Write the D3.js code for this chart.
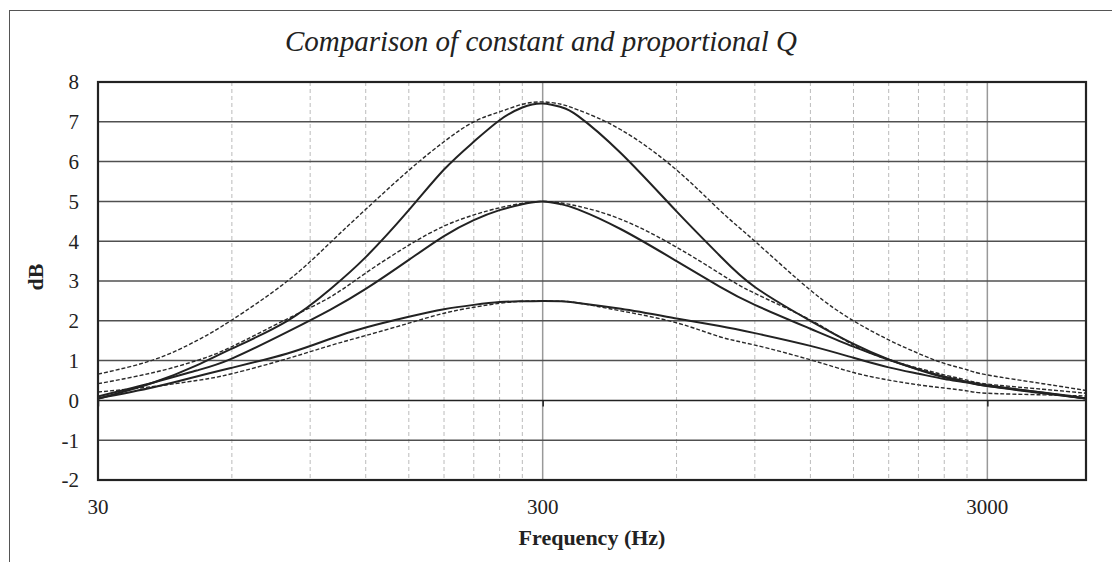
<!DOCTYPE html>
<html>
<head>
<meta charset="utf-8">
<script src="https://cdn.jsdelivr.net/npm/d3@7"></script>
<style>
  body { margin: 0; background: #fff; }
  text { font-family: "Liberation Serif", "Times New Roman", serif; fill: #222; }
</style>
</head>
<body>
<script>
//Width and height
var width = 1112;
var height = 562;

//Frequencies (Hz) the curves were read at
var freq = [30, 40, 50, 60, 80, 100, 120, 150, 180, 210, 240, 270, 300, 330, 360, 450, 600, 750, 900, 1200, 1500, 1800, 2100, 2400, 2700, 3000, 4000, 5000];

//Constant Q (dashed)
var constQ75 = [0.66, 1.02, 1.5, 2.02, 3.0, 3.97, 4.8, 5.78, 6.5, 7.0, 7.25, 7.44, 7.5, 7.44, 7.3, 6.8, 5.79, 4.78, 4.0, 2.77, 2.0, 1.52, 1.18, 0.93, 0.77, 0.64, 0.42, 0.25];
var constQ5  = [0.42, 0.7, 1.0, 1.35, 2.05, 2.6, 3.2, 3.9, 4.38, 4.66, 4.84, 4.95, 5.0, 4.96, 4.88, 4.55, 3.85, 3.19, 2.69, 2.02, 1.39, 1.02, 0.81, 0.64, 0.51, 0.41, 0.28, 0.18];
var constQ25 = [0.21, 0.35, 0.5, 0.67, 1.05, 1.38, 1.63, 1.94, 2.19, 2.34, 2.44, 2.49, 2.5, 2.49, 2.45, 2.25, 1.95, 1.6, 1.39, 1.02, 0.7, 0.51, 0.39, 0.31, 0.24, 0.18, 0.14, 0.11];

//Proportional Q (solid)
var propQ75 = [0.04, 0.45, 0.88, 1.3, 2.0, 2.8, 3.6, 4.78, 5.8, 6.5, 7.04, 7.36, 7.46, 7.37, 7.15, 6.21, 4.75, 3.64, 2.85, 2.0, 1.42, 1.03, 0.77, 0.58, 0.46, 0.36, 0.18, 0.05];
var propQ5  = [0.1, 0.45, 0.75, 1.05, 1.72, 2.28, 2.8, 3.53, 4.13, 4.53, 4.78, 4.93, 5.0, 4.93, 4.8, 4.3, 3.5, 2.86, 2.4, 1.8, 1.35, 1.02, 0.78, 0.6, 0.47, 0.38, 0.19, 0.05];
var propQ25 = [0.05, 0.33, 0.6, 0.82, 1.18, 1.55, 1.83, 2.1, 2.29, 2.4, 2.47, 2.49, 2.5, 2.49, 2.45, 2.3, 2.06, 1.87, 1.69, 1.37, 1.07, 0.83, 0.67, 0.54, 0.45, 0.36, 0.2, 0.05];

//Axis ticks
var xMajor = [30, 300, 3000];
var xMinor = [60, 90, 120, 150, 180, 210, 240, 270, 600, 900, 1200, 1500, 1800, 2100, 2400, 2700];
var yTicks = [-2, -1, 0, 1, 2, 3, 4, 5, 6, 7, 8];

var titleText = "Comparison of constant and proportional Q";
var xTitle = "Frequency (Hz)";
var yTitle = "dB";

var svg = d3.select("body")
			.append("svg")
			.attr("width", width)
			.attr("height", height);

//outer chart frame
svg.append("rect")
	.attr("x", 9.5).attr("y", 10.5)
	.attr("width", 1130).attr("height", 600)
	.attr("fill", "none")
	.attr("stroke", "#555")
	.attr("stroke-width", 1);

//plot area edges
var pLeft = 98, pRight = 1086, pTop = 82, pBottom = 480;

var x = d3.scaleLog()
	.domain([30, 5000])
	.range([pLeft, pRight]);

var y = d3.scaleLinear()
	.domain([-2, 8])
	.range([pBottom, pTop]);

//minor vertical grid
svg.selectAll("line.minor")
	.data(xMinor)
	.enter()
	.append("line")
	.attr("class", "minor")
	.attr("x1", function(d) { return x(d); })
	.attr("x2", function(d) { return x(d); })
	.attr("y1", pTop).attr("y2", pBottom)
	.attr("stroke", "#bbb")
	.attr("stroke-width", 1)
	.attr("stroke-dasharray", "4,3");

//major vertical grid
svg.selectAll("line.major")
	.data(xMajor.slice(1))
	.enter()
	.append("line")
	.attr("class", "major")
	.attr("x1", function(d) { return x(d); })
	.attr("x2", function(d) { return x(d); })
	.attr("y1", pTop).attr("y2", pBottom)
	.attr("stroke", "#999")
	.attr("stroke-width", 1.5);

//horizontal grid
svg.selectAll("line.hgrid")
	.data(yTicks)
	.enter()
	.append("line")
	.attr("class", "hgrid")
	.attr("x1", pLeft).attr("x2", pRight)
	.attr("y1", function(d) { return y(d); })
	.attr("y2", function(d) { return y(d); })
	.attr("stroke", function(d) { return d == 0 ? "#222" : "#505050"; })
	.attr("stroke-width", 1.5);

//x axis on the zero line
var xAxis = d3.axisBottom(x)
	.tickValues(xMajor)
	.tickSize(6)
	.tickFormat("");
svg.append("g")
	.attr("transform", "translate(0," + y(0) + ")")
	.call(xAxis)
	.call(function(g) {
		g.select(".domain").remove();
		g.selectAll(".tick line").attr("stroke", "#222").attr("stroke-width", 1.5);
	});

//series
var line = d3.line()
	.x(function(d) { return x(d[0]); })
	.y(function(d) { return y(d[1]); })
	.curve(d3.curveNatural);

var series = [
	{ values: constQ75, dashed: true },
	{ values: constQ5, dashed: true },
	{ values: constQ25, dashed: true },
	{ values: propQ75, dashed: false },
	{ values: propQ5, dashed: false },
	{ values: propQ25, dashed: false }
];

svg.selectAll("path.series")
	.data(series)
	.enter()
	.append("path")
	.attr("class", "series")
	.attr("d", function(s) { return line(d3.zip(freq, s.values)); })
	.attr("fill", "none")
	.attr("stroke", function(s) { return s.dashed ? "#2a2a2a" : "#222"; })
	.attr("stroke-width", function(s) { return s.dashed ? 1.4 : 2; })
	.attr("stroke-dasharray", function(s) { return s.dashed ? "4,2" : null; });

//plot border
svg.append("rect")
	.attr("x", pLeft).attr("y", pTop)
	.attr("width", pRight - pLeft).attr("height", pBottom - pTop)
	.attr("fill", "none")
	.attr("stroke", "#222")
	.attr("stroke-width", 2.2);

//y tick labels
svg.selectAll("text.ylab")
	.data(yTicks)
	.enter()
	.append("text")
	.attr("class", "ylab")
	.attr("x", 79)
	.attr("y", function(d) { return y(d) + 7.3; })
	.attr("text-anchor", "end")
	.style("font-size", "21px")
	.text(function(d) { return d; });

//x tick labels
svg.selectAll("text.xlab")
	.data(xMajor)
	.enter()
	.append("text")
	.attr("class", "xlab")
	.attr("x", function(d) { return x(d); })
	.attr("y", 514)
	.attr("text-anchor", "middle")
	.style("font-size", "21px")
	.text(function(d) { return d; });

//titles
svg.append("text")
	.attr("x", 541).attr("y", 51)
	.attr("text-anchor", "middle")
	.style("font-size", "29px")
	.style("font-style", "italic")
	.text(titleText);

svg.append("text")
	.attr("x", (pLeft + pRight) / 2).attr("y", 545)
	.attr("text-anchor", "middle")
	.style("font-size", "22px")
	.style("font-weight", "bold")
	.text(xTitle);

svg.append("text")
	.attr("transform", "translate(43,277) rotate(-90)")
	.attr("text-anchor", "middle")
	.style("font-size", "22px")
	.style("font-weight", "bold")
	.text(yTitle);
</script>
</body>
</html>
